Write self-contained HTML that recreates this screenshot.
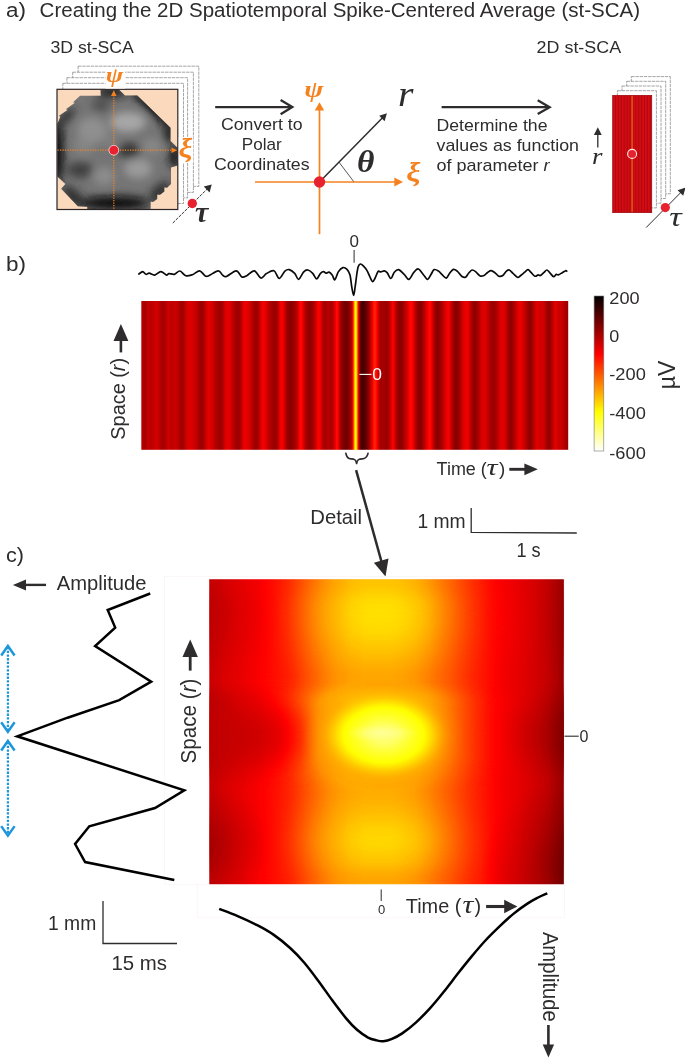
<!DOCTYPE html>
<html><head><meta charset="utf-8"><title>st-SCA</title>
<style>
html,body{margin:0;padding:0;background:#fff;}
svg{display:block;will-change:transform;}
text{font-family:"Liberation Sans",sans-serif;}
.s{font-family:"Liberation Serif",serif;font-style:italic;}
.sb{font-family:"Liberation Serif",serif;font-style:italic;font-weight:bold;}
</style></head><body>
<svg width="685" height="1058" viewBox="0 0 685 1058" fill="#2e2c2d">
<rect width="685" height="1058" fill="#fff"/>
<defs>

<linearGradient id="hb" x1="0" x2="1" y1="0" y2="0">
<stop offset="0.0000" stop-color="#c10000"/>
<stop offset="0.0023" stop-color="#b70000"/>
<stop offset="0.0047" stop-color="#ad0000"/>
<stop offset="0.0070" stop-color="#a60000"/>
<stop offset="0.0094" stop-color="#a60000"/>
<stop offset="0.0117" stop-color="#b10000"/>
<stop offset="0.0141" stop-color="#c00000"/>
<stop offset="0.0164" stop-color="#c70000"/>
<stop offset="0.0187" stop-color="#c30000"/>
<stop offset="0.0211" stop-color="#bc0000"/>
<stop offset="0.0234" stop-color="#b90000"/>
<stop offset="0.0258" stop-color="#bc0000"/>
<stop offset="0.0281" stop-color="#c20000"/>
<stop offset="0.0305" stop-color="#c90000"/>
<stop offset="0.0328" stop-color="#ce0000"/>
<stop offset="0.0351" stop-color="#d10000"/>
<stop offset="0.0375" stop-color="#d00000"/>
<stop offset="0.0398" stop-color="#c90000"/>
<stop offset="0.0422" stop-color="#c00000"/>
<stop offset="0.0445" stop-color="#b60000"/>
<stop offset="0.0468" stop-color="#ad0000"/>
<stop offset="0.0492" stop-color="#a70000"/>
<stop offset="0.0515" stop-color="#a50000"/>
<stop offset="0.0539" stop-color="#aa0000"/>
<stop offset="0.0562" stop-color="#b10000"/>
<stop offset="0.0586" stop-color="#ba0000"/>
<stop offset="0.0609" stop-color="#c40000"/>
<stop offset="0.0632" stop-color="#cd0000"/>
<stop offset="0.0656" stop-color="#d10000"/>
<stop offset="0.0679" stop-color="#c40000"/>
<stop offset="0.0703" stop-color="#be0000"/>
<stop offset="0.0726" stop-color="#c00000"/>
<stop offset="0.0750" stop-color="#c30000"/>
<stop offset="0.0773" stop-color="#c60000"/>
<stop offset="0.0796" stop-color="#c80000"/>
<stop offset="0.0820" stop-color="#c70000"/>
<stop offset="0.0843" stop-color="#c30000"/>
<stop offset="0.0867" stop-color="#ba0000"/>
<stop offset="0.0890" stop-color="#af0000"/>
<stop offset="0.0914" stop-color="#a50000"/>
<stop offset="0.0937" stop-color="#9f0000"/>
<stop offset="0.0960" stop-color="#9e0000"/>
<stop offset="0.0984" stop-color="#a50000"/>
<stop offset="0.1007" stop-color="#b10000"/>
<stop offset="0.1031" stop-color="#be0000"/>
<stop offset="0.1054" stop-color="#cb0000"/>
<stop offset="0.1078" stop-color="#d50000"/>
<stop offset="0.1101" stop-color="#db0000"/>
<stop offset="0.1124" stop-color="#dc0000"/>
<stop offset="0.1148" stop-color="#dc0000"/>
<stop offset="0.1171" stop-color="#d90000"/>
<stop offset="0.1195" stop-color="#d60000"/>
<stop offset="0.1218" stop-color="#d20000"/>
<stop offset="0.1242" stop-color="#cd0000"/>
<stop offset="0.1265" stop-color="#c80000"/>
<stop offset="0.1288" stop-color="#c00000"/>
<stop offset="0.1312" stop-color="#b70000"/>
<stop offset="0.1335" stop-color="#ae0000"/>
<stop offset="0.1359" stop-color="#a60000"/>
<stop offset="0.1382" stop-color="#9f0000"/>
<stop offset="0.1405" stop-color="#9b0000"/>
<stop offset="0.1429" stop-color="#9c0000"/>
<stop offset="0.1452" stop-color="#a40000"/>
<stop offset="0.1476" stop-color="#b00000"/>
<stop offset="0.1499" stop-color="#c00000"/>
<stop offset="0.1523" stop-color="#cf0000"/>
<stop offset="0.1546" stop-color="#da0000"/>
<stop offset="0.1569" stop-color="#e20000"/>
<stop offset="0.1593" stop-color="#e20000"/>
<stop offset="0.1616" stop-color="#dd0000"/>
<stop offset="0.1640" stop-color="#d70000"/>
<stop offset="0.1663" stop-color="#d00000"/>
<stop offset="0.1687" stop-color="#c90000"/>
<stop offset="0.1710" stop-color="#c10000"/>
<stop offset="0.1733" stop-color="#b90000"/>
<stop offset="0.1757" stop-color="#b10000"/>
<stop offset="0.1780" stop-color="#aa0000"/>
<stop offset="0.1804" stop-color="#a40000"/>
<stop offset="0.1827" stop-color="#9e0000"/>
<stop offset="0.1851" stop-color="#9b0000"/>
<stop offset="0.1874" stop-color="#9d0000"/>
<stop offset="0.1897" stop-color="#a60000"/>
<stop offset="0.1921" stop-color="#b70000"/>
<stop offset="0.1944" stop-color="#cb0000"/>
<stop offset="0.1968" stop-color="#d60000"/>
<stop offset="0.1991" stop-color="#e00000"/>
<stop offset="0.2015" stop-color="#e50000"/>
<stop offset="0.2038" stop-color="#e40000"/>
<stop offset="0.2061" stop-color="#df0000"/>
<stop offset="0.2085" stop-color="#d80000"/>
<stop offset="0.2108" stop-color="#cf0000"/>
<stop offset="0.2132" stop-color="#c60000"/>
<stop offset="0.2155" stop-color="#bc0000"/>
<stop offset="0.2178" stop-color="#b30000"/>
<stop offset="0.2202" stop-color="#ab0000"/>
<stop offset="0.2225" stop-color="#a30000"/>
<stop offset="0.2249" stop-color="#9e0000"/>
<stop offset="0.2272" stop-color="#9b0000"/>
<stop offset="0.2296" stop-color="#9e0000"/>
<stop offset="0.2319" stop-color="#a90000"/>
<stop offset="0.2342" stop-color="#ba0000"/>
<stop offset="0.2366" stop-color="#ce0000"/>
<stop offset="0.2389" stop-color="#e00000"/>
<stop offset="0.2413" stop-color="#e90000"/>
<stop offset="0.2436" stop-color="#eb0000"/>
<stop offset="0.2460" stop-color="#e90000"/>
<stop offset="0.2483" stop-color="#e40000"/>
<stop offset="0.2506" stop-color="#dd0000"/>
<stop offset="0.2530" stop-color="#d70000"/>
<stop offset="0.2553" stop-color="#cd0000"/>
<stop offset="0.2577" stop-color="#c20000"/>
<stop offset="0.2600" stop-color="#b70000"/>
<stop offset="0.2624" stop-color="#ac0000"/>
<stop offset="0.2647" stop-color="#a30000"/>
<stop offset="0.2670" stop-color="#9d0000"/>
<stop offset="0.2694" stop-color="#9b0000"/>
<stop offset="0.2717" stop-color="#9f0000"/>
<stop offset="0.2741" stop-color="#ab0000"/>
<stop offset="0.2764" stop-color="#bc0000"/>
<stop offset="0.2788" stop-color="#cf0000"/>
<stop offset="0.2811" stop-color="#e10000"/>
<stop offset="0.2834" stop-color="#ef0000"/>
<stop offset="0.2858" stop-color="#f50000"/>
<stop offset="0.2881" stop-color="#f30000"/>
<stop offset="0.2905" stop-color="#e80000"/>
<stop offset="0.2928" stop-color="#da0000"/>
<stop offset="0.2952" stop-color="#cb0000"/>
<stop offset="0.2975" stop-color="#c10000"/>
<stop offset="0.2998" stop-color="#b90000"/>
<stop offset="0.3022" stop-color="#b20000"/>
<stop offset="0.3045" stop-color="#aa0000"/>
<stop offset="0.3069" stop-color="#a40000"/>
<stop offset="0.3092" stop-color="#9e0000"/>
<stop offset="0.3115" stop-color="#9a0000"/>
<stop offset="0.3139" stop-color="#990000"/>
<stop offset="0.3162" stop-color="#9c0000"/>
<stop offset="0.3186" stop-color="#a70000"/>
<stop offset="0.3209" stop-color="#bd0000"/>
<stop offset="0.3233" stop-color="#d90000"/>
<stop offset="0.3256" stop-color="#f00000"/>
<stop offset="0.3279" stop-color="#fa0000"/>
<stop offset="0.3303" stop-color="#f50000"/>
<stop offset="0.3326" stop-color="#e70000"/>
<stop offset="0.3350" stop-color="#d40000"/>
<stop offset="0.3373" stop-color="#be0000"/>
<stop offset="0.3397" stop-color="#ab0000"/>
<stop offset="0.3420" stop-color="#9d0000"/>
<stop offset="0.3443" stop-color="#930000"/>
<stop offset="0.3467" stop-color="#8d0000"/>
<stop offset="0.3490" stop-color="#8a0000"/>
<stop offset="0.3514" stop-color="#8c0000"/>
<stop offset="0.3537" stop-color="#900000"/>
<stop offset="0.3561" stop-color="#960000"/>
<stop offset="0.3584" stop-color="#9e0000"/>
<stop offset="0.3607" stop-color="#a80000"/>
<stop offset="0.3631" stop-color="#b30000"/>
<stop offset="0.3654" stop-color="#c10000"/>
<stop offset="0.3678" stop-color="#d80000"/>
<stop offset="0.3701" stop-color="#f40000"/>
<stop offset="0.3725" stop-color="#ff0600"/>
<stop offset="0.3748" stop-color="#ff0500"/>
<stop offset="0.3771" stop-color="#f40000"/>
<stop offset="0.3795" stop-color="#de0000"/>
<stop offset="0.3818" stop-color="#c70000"/>
<stop offset="0.3842" stop-color="#b30000"/>
<stop offset="0.3865" stop-color="#a50000"/>
<stop offset="0.3888" stop-color="#9b0000"/>
<stop offset="0.3912" stop-color="#940000"/>
<stop offset="0.3935" stop-color="#910000"/>
<stop offset="0.3959" stop-color="#920000"/>
<stop offset="0.3982" stop-color="#960000"/>
<stop offset="0.4006" stop-color="#9e0000"/>
<stop offset="0.4029" stop-color="#a80000"/>
<stop offset="0.4052" stop-color="#b30000"/>
<stop offset="0.4076" stop-color="#c00000"/>
<stop offset="0.4099" stop-color="#d50000"/>
<stop offset="0.4123" stop-color="#ec0000"/>
<stop offset="0.4146" stop-color="#fd0000"/>
<stop offset="0.4170" stop-color="#fd0000"/>
<stop offset="0.4193" stop-color="#ed0000"/>
<stop offset="0.4216" stop-color="#d70000"/>
<stop offset="0.4240" stop-color="#c10000"/>
<stop offset="0.4263" stop-color="#b30000"/>
<stop offset="0.4287" stop-color="#aa0000"/>
<stop offset="0.4310" stop-color="#a60000"/>
<stop offset="0.4334" stop-color="#a70000"/>
<stop offset="0.4357" stop-color="#b20000"/>
<stop offset="0.4380" stop-color="#b90000"/>
<stop offset="0.4404" stop-color="#b40000"/>
<stop offset="0.4427" stop-color="#ad0000"/>
<stop offset="0.4451" stop-color="#ab0000"/>
<stop offset="0.4474" stop-color="#b20000"/>
<stop offset="0.4498" stop-color="#bf0000"/>
<stop offset="0.4521" stop-color="#ce0000"/>
<stop offset="0.4544" stop-color="#e80000"/>
<stop offset="0.4568" stop-color="#ff0700"/>
<stop offset="0.4591" stop-color="#ff0b00"/>
<stop offset="0.4615" stop-color="#ef0000"/>
<stop offset="0.4638" stop-color="#cb0000"/>
<stop offset="0.4662" stop-color="#ad0000"/>
<stop offset="0.4685" stop-color="#9b0000"/>
<stop offset="0.4708" stop-color="#8c0000"/>
<stop offset="0.4732" stop-color="#800000"/>
<stop offset="0.4755" stop-color="#770000"/>
<stop offset="0.4779" stop-color="#720000"/>
<stop offset="0.4802" stop-color="#720000"/>
<stop offset="0.4825" stop-color="#760000"/>
<stop offset="0.4849" stop-color="#7e0000"/>
<stop offset="0.4872" stop-color="#890000"/>
<stop offset="0.4896" stop-color="#990000"/>
<stop offset="0.4919" stop-color="#af0000"/>
<stop offset="0.4943" stop-color="#d50000"/>
<stop offset="0.4966" stop-color="#ff2800"/>
<stop offset="0.4989" stop-color="#ff9e00"/>
<stop offset="0.5013" stop-color="#fffd00"/>
<stop offset="0.5036" stop-color="#fff900"/>
<stop offset="0.5060" stop-color="#ff7f00"/>
<stop offset="0.5083" stop-color="#ff0900"/>
<stop offset="0.5107" stop-color="#ae0000"/>
<stop offset="0.5130" stop-color="#6d0000"/>
<stop offset="0.5153" stop-color="#500000"/>
<stop offset="0.5177" stop-color="#460000"/>
<stop offset="0.5200" stop-color="#470000"/>
<stop offset="0.5224" stop-color="#4f0000"/>
<stop offset="0.5247" stop-color="#5a0000"/>
<stop offset="0.5271" stop-color="#670000"/>
<stop offset="0.5294" stop-color="#750000"/>
<stop offset="0.5317" stop-color="#860000"/>
<stop offset="0.5341" stop-color="#9a0000"/>
<stop offset="0.5364" stop-color="#b40000"/>
<stop offset="0.5388" stop-color="#d00000"/>
<stop offset="0.5411" stop-color="#eb0000"/>
<stop offset="0.5435" stop-color="#ff0900"/>
<stop offset="0.5458" stop-color="#ff2000"/>
<stop offset="0.5481" stop-color="#ff2100"/>
<stop offset="0.5505" stop-color="#ff0e00"/>
<stop offset="0.5528" stop-color="#f50000"/>
<stop offset="0.5552" stop-color="#d90000"/>
<stop offset="0.5575" stop-color="#b90000"/>
<stop offset="0.5599" stop-color="#a20000"/>
<stop offset="0.5622" stop-color="#9f0000"/>
<stop offset="0.5645" stop-color="#a70000"/>
<stop offset="0.5669" stop-color="#a80000"/>
<stop offset="0.5692" stop-color="#a30000"/>
<stop offset="0.5716" stop-color="#9e0000"/>
<stop offset="0.5739" stop-color="#9c0000"/>
<stop offset="0.5762" stop-color="#9f0000"/>
<stop offset="0.5786" stop-color="#a60000"/>
<stop offset="0.5809" stop-color="#b20000"/>
<stop offset="0.5833" stop-color="#c60000"/>
<stop offset="0.5856" stop-color="#e00000"/>
<stop offset="0.5880" stop-color="#f50000"/>
<stop offset="0.5903" stop-color="#fa0000"/>
<stop offset="0.5926" stop-color="#e80000"/>
<stop offset="0.5950" stop-color="#c90000"/>
<stop offset="0.5973" stop-color="#b00000"/>
<stop offset="0.5997" stop-color="#a20000"/>
<stop offset="0.6020" stop-color="#960000"/>
<stop offset="0.6044" stop-color="#8e0000"/>
<stop offset="0.6067" stop-color="#8b0000"/>
<stop offset="0.6090" stop-color="#8e0000"/>
<stop offset="0.6114" stop-color="#950000"/>
<stop offset="0.6137" stop-color="#a00000"/>
<stop offset="0.6161" stop-color="#ad0000"/>
<stop offset="0.6184" stop-color="#ba0000"/>
<stop offset="0.6208" stop-color="#c70000"/>
<stop offset="0.6231" stop-color="#d50000"/>
<stop offset="0.6254" stop-color="#e70000"/>
<stop offset="0.6278" stop-color="#f90000"/>
<stop offset="0.6301" stop-color="#ff0500"/>
<stop offset="0.6325" stop-color="#ff0700"/>
<stop offset="0.6348" stop-color="#fc0000"/>
<stop offset="0.6372" stop-color="#e90000"/>
<stop offset="0.6395" stop-color="#d30000"/>
<stop offset="0.6418" stop-color="#bd0000"/>
<stop offset="0.6442" stop-color="#ab0000"/>
<stop offset="0.6465" stop-color="#9c0000"/>
<stop offset="0.6489" stop-color="#8e0000"/>
<stop offset="0.6512" stop-color="#850000"/>
<stop offset="0.6535" stop-color="#840000"/>
<stop offset="0.6559" stop-color="#8a0000"/>
<stop offset="0.6582" stop-color="#960000"/>
<stop offset="0.6606" stop-color="#a50000"/>
<stop offset="0.6629" stop-color="#b60000"/>
<stop offset="0.6653" stop-color="#c80000"/>
<stop offset="0.6676" stop-color="#d70000"/>
<stop offset="0.6699" stop-color="#e80000"/>
<stop offset="0.6723" stop-color="#f90000"/>
<stop offset="0.6746" stop-color="#ff0600"/>
<stop offset="0.6770" stop-color="#ff0500"/>
<stop offset="0.6793" stop-color="#f50000"/>
<stop offset="0.6817" stop-color="#dc0000"/>
<stop offset="0.6840" stop-color="#c60000"/>
<stop offset="0.6863" stop-color="#af0000"/>
<stop offset="0.6887" stop-color="#990000"/>
<stop offset="0.6910" stop-color="#8d0000"/>
<stop offset="0.6934" stop-color="#8a0000"/>
<stop offset="0.6957" stop-color="#8d0000"/>
<stop offset="0.6981" stop-color="#930000"/>
<stop offset="0.7004" stop-color="#9b0000"/>
<stop offset="0.7027" stop-color="#a30000"/>
<stop offset="0.7051" stop-color="#b00000"/>
<stop offset="0.7074" stop-color="#be0000"/>
<stop offset="0.7098" stop-color="#cb0000"/>
<stop offset="0.7121" stop-color="#d80000"/>
<stop offset="0.7145" stop-color="#e60000"/>
<stop offset="0.7168" stop-color="#f10000"/>
<stop offset="0.7191" stop-color="#f60000"/>
<stop offset="0.7215" stop-color="#f00000"/>
<stop offset="0.7238" stop-color="#dc0000"/>
<stop offset="0.7262" stop-color="#c40000"/>
<stop offset="0.7285" stop-color="#b20000"/>
<stop offset="0.7309" stop-color="#a20000"/>
<stop offset="0.7332" stop-color="#930000"/>
<stop offset="0.7355" stop-color="#8a0000"/>
<stop offset="0.7379" stop-color="#890000"/>
<stop offset="0.7402" stop-color="#8c0000"/>
<stop offset="0.7426" stop-color="#940000"/>
<stop offset="0.7449" stop-color="#9e0000"/>
<stop offset="0.7472" stop-color="#aa0000"/>
<stop offset="0.7496" stop-color="#ba0000"/>
<stop offset="0.7519" stop-color="#cb0000"/>
<stop offset="0.7543" stop-color="#d90000"/>
<stop offset="0.7566" stop-color="#e30000"/>
<stop offset="0.7590" stop-color="#ea0000"/>
<stop offset="0.7613" stop-color="#ee0000"/>
<stop offset="0.7636" stop-color="#ee0000"/>
<stop offset="0.7660" stop-color="#e70000"/>
<stop offset="0.7683" stop-color="#d60000"/>
<stop offset="0.7707" stop-color="#c20000"/>
<stop offset="0.7730" stop-color="#b30000"/>
<stop offset="0.7754" stop-color="#a40000"/>
<stop offset="0.7777" stop-color="#980000"/>
<stop offset="0.7800" stop-color="#910000"/>
<stop offset="0.7824" stop-color="#920000"/>
<stop offset="0.7847" stop-color="#980000"/>
<stop offset="0.7871" stop-color="#a10000"/>
<stop offset="0.7894" stop-color="#ab0000"/>
<stop offset="0.7918" stop-color="#b70000"/>
<stop offset="0.7941" stop-color="#c50000"/>
<stop offset="0.7964" stop-color="#d20000"/>
<stop offset="0.7988" stop-color="#db0000"/>
<stop offset="0.8011" stop-color="#df0000"/>
<stop offset="0.8035" stop-color="#df0000"/>
<stop offset="0.8058" stop-color="#db0000"/>
<stop offset="0.8082" stop-color="#d50000"/>
<stop offset="0.8105" stop-color="#cc0000"/>
<stop offset="0.8128" stop-color="#c10000"/>
<stop offset="0.8152" stop-color="#b50000"/>
<stop offset="0.8175" stop-color="#ab0000"/>
<stop offset="0.8199" stop-color="#a20000"/>
<stop offset="0.8222" stop-color="#9c0000"/>
<stop offset="0.8245" stop-color="#9a0000"/>
<stop offset="0.8269" stop-color="#9c0000"/>
<stop offset="0.8292" stop-color="#a30000"/>
<stop offset="0.8316" stop-color="#ab0000"/>
<stop offset="0.8339" stop-color="#b50000"/>
<stop offset="0.8363" stop-color="#c10000"/>
<stop offset="0.8386" stop-color="#ce0000"/>
<stop offset="0.8409" stop-color="#da0000"/>
<stop offset="0.8433" stop-color="#e00000"/>
<stop offset="0.8456" stop-color="#e10000"/>
<stop offset="0.8480" stop-color="#e00000"/>
<stop offset="0.8503" stop-color="#db0000"/>
<stop offset="0.8527" stop-color="#d30000"/>
<stop offset="0.8550" stop-color="#c50000"/>
<stop offset="0.8573" stop-color="#b40000"/>
<stop offset="0.8597" stop-color="#a40000"/>
<stop offset="0.8620" stop-color="#980000"/>
<stop offset="0.8644" stop-color="#910000"/>
<stop offset="0.8667" stop-color="#900000"/>
<stop offset="0.8691" stop-color="#970000"/>
<stop offset="0.8714" stop-color="#a20000"/>
<stop offset="0.8737" stop-color="#af0000"/>
<stop offset="0.8761" stop-color="#bb0000"/>
<stop offset="0.8784" stop-color="#c80000"/>
<stop offset="0.8808" stop-color="#d60000"/>
<stop offset="0.8831" stop-color="#e20000"/>
<stop offset="0.8855" stop-color="#eb0000"/>
<stop offset="0.8878" stop-color="#ed0000"/>
<stop offset="0.8901" stop-color="#e70000"/>
<stop offset="0.8925" stop-color="#dc0000"/>
<stop offset="0.8948" stop-color="#d20000"/>
<stop offset="0.8972" stop-color="#c80000"/>
<stop offset="0.8995" stop-color="#be0000"/>
<stop offset="0.9019" stop-color="#b30000"/>
<stop offset="0.9042" stop-color="#a80000"/>
<stop offset="0.9065" stop-color="#9b0000"/>
<stop offset="0.9089" stop-color="#900000"/>
<stop offset="0.9112" stop-color="#8c0000"/>
<stop offset="0.9136" stop-color="#940000"/>
<stop offset="0.9159" stop-color="#a30000"/>
<stop offset="0.9182" stop-color="#b20000"/>
<stop offset="0.9206" stop-color="#bf0000"/>
<stop offset="0.9229" stop-color="#cc0000"/>
<stop offset="0.9253" stop-color="#d80000"/>
<stop offset="0.9276" stop-color="#df0000"/>
<stop offset="0.9300" stop-color="#dd0000"/>
<stop offset="0.9323" stop-color="#d50000"/>
<stop offset="0.9346" stop-color="#cf0000"/>
<stop offset="0.9370" stop-color="#d20000"/>
<stop offset="0.9393" stop-color="#d70000"/>
<stop offset="0.9417" stop-color="#d10000"/>
<stop offset="0.9440" stop-color="#c50000"/>
<stop offset="0.9464" stop-color="#b90000"/>
<stop offset="0.9487" stop-color="#ae0000"/>
<stop offset="0.9510" stop-color="#a00000"/>
<stop offset="0.9534" stop-color="#950000"/>
<stop offset="0.9557" stop-color="#910000"/>
<stop offset="0.9581" stop-color="#990000"/>
<stop offset="0.9604" stop-color="#a80000"/>
<stop offset="0.9628" stop-color="#b80000"/>
<stop offset="0.9651" stop-color="#c60000"/>
<stop offset="0.9674" stop-color="#d50000"/>
<stop offset="0.9698" stop-color="#e10000"/>
<stop offset="0.9721" stop-color="#e30000"/>
<stop offset="0.9745" stop-color="#d60000"/>
<stop offset="0.9768" stop-color="#c90000"/>
<stop offset="0.9792" stop-color="#ca0000"/>
<stop offset="0.9815" stop-color="#cf0000"/>
<stop offset="0.9838" stop-color="#cb0000"/>
<stop offset="0.9862" stop-color="#c40000"/>
<stop offset="0.9885" stop-color="#bc0000"/>
<stop offset="0.9909" stop-color="#b40000"/>
<stop offset="0.9932" stop-color="#ad0000"/>
<stop offset="0.9955" stop-color="#a40000"/>
<stop offset="0.9979" stop-color="#9d0000"/>
</linearGradient>
<linearGradient id="cb" x1="0" x2="0" y1="0" y2="1"><stop offset="0" stop-color="#000"/><stop offset=".375" stop-color="#f00"/><stop offset=".75" stop-color="#ff0"/><stop offset="1" stop-color="#fff"/></linearGradient>
<filter id="hot" x="0" y="0" width="1" height="1" color-interpolation-filters="sRGB">
<feComponentTransfer>
<feFuncR type="table" tableValues="0 .3333 .6667 1 1 1 1 1 1"/>
<feFuncG type="table" tableValues="0 0 0 0 .3333 .6667 1 1 1"/>
<feFuncB type="table" tableValues="0 0 0 0 0 0 0 .5 1"/>
</feComponentTransfer></filter>
<filter id="bl2" x="-10%" y="-10%" width="120%" height="120%"><feGaussianBlur stdDeviation="2.2"/></filter>
<filter id="bl1" x="-10%" y="-10%" width="120%" height="120%"><feGaussianBlur stdDeviation="1"/></filter>
<filter id="bl06" x="-10%" y="-10%" width="120%" height="120%"><feGaussianBlur stdDeviation=".6"/></filter>
<filter id="bl3" x="-30%" y="-30%" width="160%" height="160%"><feGaussianBlur stdDeviation="3"/></filter>
<filter id="bl4" x="-30%" y="-30%" width="160%" height="160%"><feGaussianBlur stdDeviation="4"/></filter>
<linearGradient id="g1" x1="0" x2="1" y1="0" y2="0"><stop offset="0.0000" stop-color="#4c4c4c"/><stop offset="0.0182" stop-color="#4f4f4f"/><stop offset="0.0364" stop-color="#515151"/><stop offset="0.0545" stop-color="#545454"/><stop offset="0.0727" stop-color="#565656"/><stop offset="0.0909" stop-color="#585858"/><stop offset="0.1091" stop-color="#5b5b5b"/><stop offset="0.1273" stop-color="#5d5d5d"/><stop offset="0.1455" stop-color="#606060"/><stop offset="0.1636" stop-color="#626262"/><stop offset="0.1818" stop-color="#656565"/><stop offset="0.2000" stop-color="#686868"/><stop offset="0.2182" stop-color="#6b6b6b"/><stop offset="0.2364" stop-color="#707070"/><stop offset="0.2545" stop-color="#767676"/><stop offset="0.2727" stop-color="#7d7d7d"/><stop offset="0.2909" stop-color="#838383"/><stop offset="0.3091" stop-color="#898989"/><stop offset="0.3273" stop-color="#8f8f8f"/><stop offset="0.3455" stop-color="#949494"/><stop offset="0.3636" stop-color="#989898"/><stop offset="0.3818" stop-color="#9a9a9a"/><stop offset="0.4000" stop-color="#9c9c9c"/><stop offset="0.4182" stop-color="#9d9d9d"/><stop offset="0.4364" stop-color="#9e9e9e"/><stop offset="0.4545" stop-color="#9e9e9e"/><stop offset="0.4727" stop-color="#9e9e9e"/><stop offset="0.4909" stop-color="#9e9e9e"/><stop offset="0.5091" stop-color="#9e9e9e"/><stop offset="0.5273" stop-color="#9d9d9d"/><stop offset="0.5455" stop-color="#9c9c9c"/><stop offset="0.5636" stop-color="#9a9a9a"/><stop offset="0.5818" stop-color="#989898"/><stop offset="0.6000" stop-color="#949494"/><stop offset="0.6182" stop-color="#909090"/><stop offset="0.6364" stop-color="#8b8b8b"/><stop offset="0.6545" stop-color="#878787"/><stop offset="0.6727" stop-color="#828282"/><stop offset="0.6909" stop-color="#7d7d7d"/><stop offset="0.7091" stop-color="#787878"/><stop offset="0.7273" stop-color="#737373"/><stop offset="0.7455" stop-color="#6e6e6e"/><stop offset="0.7636" stop-color="#6a6a6a"/><stop offset="0.7818" stop-color="#666666"/><stop offset="0.8000" stop-color="#626262"/><stop offset="0.8182" stop-color="#5e5e5e"/><stop offset="0.8364" stop-color="#5b5b5b"/><stop offset="0.8545" stop-color="#595959"/><stop offset="0.8727" stop-color="#575757"/><stop offset="0.8909" stop-color="#545454"/><stop offset="0.9091" stop-color="#515151"/><stop offset="0.9273" stop-color="#4f4f4f"/><stop offset="0.9455" stop-color="#4c4c4c"/><stop offset="0.9636" stop-color="#474747"/><stop offset="0.9818" stop-color="#414141"/><stop offset="1.0000" stop-color="#393939"/></linearGradient>
<linearGradient id="g3" x1="0" x2="1" y1="0" y2="0"><stop offset="0.0000" stop-color="#464646"/><stop offset="0.0182" stop-color="#494949"/><stop offset="0.0364" stop-color="#4b4b4b"/><stop offset="0.0545" stop-color="#4e4e4e"/><stop offset="0.0727" stop-color="#515151"/><stop offset="0.0909" stop-color="#545454"/><stop offset="0.1091" stop-color="#565656"/><stop offset="0.1273" stop-color="#595959"/><stop offset="0.1455" stop-color="#5c5c5c"/><stop offset="0.1636" stop-color="#616161"/><stop offset="0.1818" stop-color="#656565"/><stop offset="0.2000" stop-color="#6b6b6b"/><stop offset="0.2182" stop-color="#717171"/><stop offset="0.2364" stop-color="#797979"/><stop offset="0.2545" stop-color="#818181"/><stop offset="0.2727" stop-color="#898989"/><stop offset="0.2909" stop-color="#919191"/><stop offset="0.3091" stop-color="#989898"/><stop offset="0.3273" stop-color="#9e9e9e"/><stop offset="0.3455" stop-color="#a3a3a3"/><stop offset="0.3636" stop-color="#a7a7a7"/><stop offset="0.3818" stop-color="#acacac"/><stop offset="0.4000" stop-color="#b0b0b0"/><stop offset="0.4182" stop-color="#b2b2b2"/><stop offset="0.4364" stop-color="#b4b4b4"/><stop offset="0.4545" stop-color="#b5b5b5"/><stop offset="0.4727" stop-color="#b5b5b5"/><stop offset="0.4909" stop-color="#b5b5b5"/><stop offset="0.5091" stop-color="#b5b5b5"/><stop offset="0.5273" stop-color="#b4b4b4"/><stop offset="0.5455" stop-color="#b2b2b2"/><stop offset="0.5636" stop-color="#b0b0b0"/><stop offset="0.5818" stop-color="#adadad"/><stop offset="0.6000" stop-color="#a9a9a9"/><stop offset="0.6182" stop-color="#a4a4a4"/><stop offset="0.6364" stop-color="#9d9d9d"/><stop offset="0.6545" stop-color="#969696"/><stop offset="0.6727" stop-color="#8f8f8f"/><stop offset="0.6909" stop-color="#888888"/><stop offset="0.7091" stop-color="#818181"/><stop offset="0.7273" stop-color="#7a7a7a"/><stop offset="0.7455" stop-color="#747474"/><stop offset="0.7636" stop-color="#6e6e6e"/><stop offset="0.7818" stop-color="#686868"/><stop offset="0.8000" stop-color="#636363"/><stop offset="0.8182" stop-color="#606060"/><stop offset="0.8364" stop-color="#5d5d5d"/><stop offset="0.8545" stop-color="#5b5b5b"/><stop offset="0.8727" stop-color="#585858"/><stop offset="0.8909" stop-color="#555555"/><stop offset="0.9091" stop-color="#525252"/><stop offset="0.9273" stop-color="#4e4e4e"/><stop offset="0.9455" stop-color="#4a4a4a"/><stop offset="0.9636" stop-color="#454545"/><stop offset="0.9818" stop-color="#3f3f3f"/><stop offset="1.0000" stop-color="#383838"/></linearGradient>
<linearGradient id="gw" x1="0" x2="1" y1="0" y2="0"><stop offset="0.0000" stop-color="#484848" stop-opacity="1"/><stop offset="0.0781" stop-color="#4b4b4b" stop-opacity="1"/><stop offset="0.1374" stop-color="#4e4e4e" stop-opacity="1"/><stop offset="0.1994" stop-color="#555555" stop-opacity="0.9"/><stop offset="0.2559" stop-color="#606060" stop-opacity="0.55"/><stop offset="0.3066" stop-color="#737373" stop-opacity="0"/><stop offset="0.7354" stop-color="#737373" stop-opacity="0"/><stop offset="0.8059" stop-color="#606060" stop-opacity="0.5"/><stop offset="0.8764" stop-color="#505050" stop-opacity="0.9"/><stop offset="0.9329" stop-color="#454545" stop-opacity="1"/><stop offset="0.9639" stop-color="#3c3c3c" stop-opacity="1"/><stop offset="1.0000" stop-color="#2f2f2f" stop-opacity="1"/></linearGradient>
<radialGradient id="gstreak" gradientUnits="userSpaceOnUse" cx="0" cy="0" r="1" gradientTransform="translate(382 733) scale(36 10)"><stop offset="0" stop-color="#e6e6e6" stop-opacity=".95"/><stop offset=".5" stop-color="#e0e0e0" stop-opacity=".6"/><stop offset="1" stop-color="#d4d4d4" stop-opacity="0"/></radialGradient>
<radialGradient id="gblob" gradientUnits="userSpaceOnUse" cx="0" cy="0" r="1" gradientTransform="translate(384 735) scale(80 56)"><stop offset="0" stop-color="#dfdfdf" stop-opacity="1"/><stop offset="0.1" stop-color="#dddddd" stop-opacity="1"/><stop offset="0.2" stop-color="#d6d6d6" stop-opacity="1"/><stop offset="0.3" stop-color="#cdcdcd" stop-opacity="1"/><stop offset="0.4" stop-color="#c6c6c6" stop-opacity="1"/><stop offset="0.5" stop-color="#bfbfbf" stop-opacity="1"/><stop offset="0.58" stop-color="#b5b5b5" stop-opacity="0.95"/><stop offset="0.66" stop-color="#aaaaaa" stop-opacity="0.8"/><stop offset="0.75" stop-color="#9e9e9e" stop-opacity="0.55"/><stop offset="0.85" stop-color="#949494" stop-opacity="0.28"/><stop offset="1" stop-color="#8a8a8a" stop-opacity="0"/></radialGradient>
<linearGradient id="mbg" x1="0" x2="0" y1="0" y2="1">
<stop offset="0.0000" stop-color="#808080"/>
<stop offset="0.0159" stop-color="#848484"/>
<stop offset="0.0317" stop-color="#979797"/>
<stop offset="0.0476" stop-color="#b3b3b3"/>
<stop offset="0.0635" stop-color="#cfcfcf"/>
<stop offset="0.0794" stop-color="#e3e3e3"/>
<stop offset="0.0952" stop-color="#ebebeb"/>
<stop offset="0.1111" stop-color="#ededed"/>
<stop offset="0.1270" stop-color="#ebebeb"/>
<stop offset="0.1429" stop-color="#e5e5e5"/>
<stop offset="0.1587" stop-color="#dbdbdb"/>
<stop offset="0.1746" stop-color="#cccccc"/>
<stop offset="0.1905" stop-color="#b8b8b8"/>
<stop offset="0.2063" stop-color="#a1a1a1"/>
<stop offset="0.2222" stop-color="#898989"/>
<stop offset="0.2381" stop-color="#727272"/>
<stop offset="0.2540" stop-color="#585858"/>
<stop offset="0.2698" stop-color="#3f3f3f"/>
<stop offset="0.2857" stop-color="#272727"/>
<stop offset="0.3016" stop-color="#131313"/>
<stop offset="0.3175" stop-color="#010101"/>
<stop offset="0.3333" stop-color="#000000"/>
<stop offset="0.3492" stop-color="#232323"/>
<stop offset="0.3651" stop-color="#696969"/>
<stop offset="0.3810" stop-color="#b3b3b3"/>
<stop offset="0.3968" stop-color="#e8e8e8"/>
<stop offset="0.4127" stop-color="#fcfcfc"/>
<stop offset="0.4286" stop-color="#ffffff"/>
<stop offset="0.4444" stop-color="#ffffff"/>
<stop offset="0.4603" stop-color="#ffffff"/>
<stop offset="0.4762" stop-color="#ffffff"/>
<stop offset="0.4921" stop-color="#ffffff"/>
<stop offset="0.5079" stop-color="#ffffff"/>
<stop offset="0.5238" stop-color="#ffffff"/>
<stop offset="0.5397" stop-color="#ffffff"/>
<stop offset="0.5556" stop-color="#ffffff"/>
<stop offset="0.5714" stop-color="#ffffff"/>
<stop offset="0.5873" stop-color="#f0f0f0"/>
<stop offset="0.6032" stop-color="#d1d1d1"/>
<stop offset="0.6190" stop-color="#adadad"/>
<stop offset="0.6349" stop-color="#8d8d8d"/>
<stop offset="0.6508" stop-color="#686868"/>
<stop offset="0.6667" stop-color="#444444"/>
<stop offset="0.6825" stop-color="#2b2b2b"/>
<stop offset="0.6984" stop-color="#232323"/>
<stop offset="0.7143" stop-color="#2a2a2a"/>
<stop offset="0.7302" stop-color="#3a3a3a"/>
<stop offset="0.7460" stop-color="#4d4d4d"/>
<stop offset="0.7619" stop-color="#5f5f5f"/>
<stop offset="0.7778" stop-color="#757575"/>
<stop offset="0.7937" stop-color="#8e8e8e"/>
<stop offset="0.8095" stop-color="#a5a5a5"/>
<stop offset="0.8254" stop-color="#b7b7b7"/>
<stop offset="0.8413" stop-color="#c4c4c4"/>
<stop offset="0.8571" stop-color="#c9c9c9"/>
<stop offset="0.8730" stop-color="#c2c2c2"/>
<stop offset="0.8889" stop-color="#b2b2b2"/>
<stop offset="0.9048" stop-color="#9b9b9b"/>
<stop offset="0.9206" stop-color="#838383"/>
<stop offset="0.9365" stop-color="#646464"/>
<stop offset="0.9524" stop-color="#3d3d3d"/>
<stop offset="0.9683" stop-color="#191919"/>
<stop offset="0.9841" stop-color="#030303"/>
<stop offset="1.0000" stop-color="#000000"/>
</linearGradient>
<mask id="mb" maskUnits="userSpaceOnUse" x="209.3" y="579.3" width="354.49999999999994" height="304.9000000000001"><rect x="209.3" y="579.3" width="354.49999999999994" height="304.9000000000001" fill="url(#mbg)"/></mask>
<linearGradient id="mag" x1="0" x2="0" y1="0" y2="1">
<stop offset="0.0000" stop-color="#000000"/>
<stop offset="0.0159" stop-color="#000000"/>
<stop offset="0.0317" stop-color="#000000"/>
<stop offset="0.0476" stop-color="#000000"/>
<stop offset="0.0635" stop-color="#000000"/>
<stop offset="0.0794" stop-color="#000000"/>
<stop offset="0.0952" stop-color="#000000"/>
<stop offset="0.1111" stop-color="#000000"/>
<stop offset="0.1270" stop-color="#000000"/>
<stop offset="0.1429" stop-color="#000000"/>
<stop offset="0.1587" stop-color="#000000"/>
<stop offset="0.1746" stop-color="#000000"/>
<stop offset="0.1905" stop-color="#000000"/>
<stop offset="0.2063" stop-color="#000000"/>
<stop offset="0.2222" stop-color="#000000"/>
<stop offset="0.2381" stop-color="#000000"/>
<stop offset="0.2540" stop-color="#000000"/>
<stop offset="0.2698" stop-color="#000000"/>
<stop offset="0.2857" stop-color="#000000"/>
<stop offset="0.3016" stop-color="#000000"/>
<stop offset="0.3175" stop-color="#000000"/>
<stop offset="0.3333" stop-color="#000000"/>
<stop offset="0.3492" stop-color="#000000"/>
<stop offset="0.3651" stop-color="#080808"/>
<stop offset="0.3810" stop-color="#1c1c1c"/>
<stop offset="0.3968" stop-color="#383838"/>
<stop offset="0.4127" stop-color="#5a5a5a"/>
<stop offset="0.4286" stop-color="#818181"/>
<stop offset="0.4444" stop-color="#aaaaaa"/>
<stop offset="0.4603" stop-color="#cbcbcb"/>
<stop offset="0.4762" stop-color="#e7e7e7"/>
<stop offset="0.4921" stop-color="#f7f7f7"/>
<stop offset="0.5079" stop-color="#fefefe"/>
<stop offset="0.5238" stop-color="#fefefe"/>
<stop offset="0.5397" stop-color="#f4f4f4"/>
<stop offset="0.5556" stop-color="#e1e1e1"/>
<stop offset="0.5714" stop-color="#c4c4c4"/>
<stop offset="0.5873" stop-color="#a0a0a0"/>
<stop offset="0.6032" stop-color="#777777"/>
<stop offset="0.6190" stop-color="#525252"/>
<stop offset="0.6349" stop-color="#303030"/>
<stop offset="0.6508" stop-color="#161616"/>
<stop offset="0.6667" stop-color="#050505"/>
<stop offset="0.6825" stop-color="#000000"/>
<stop offset="0.6984" stop-color="#000000"/>
<stop offset="0.7143" stop-color="#000000"/>
<stop offset="0.7302" stop-color="#000000"/>
<stop offset="0.7460" stop-color="#000000"/>
<stop offset="0.7619" stop-color="#000000"/>
<stop offset="0.7778" stop-color="#000000"/>
<stop offset="0.7937" stop-color="#000000"/>
<stop offset="0.8095" stop-color="#000000"/>
<stop offset="0.8254" stop-color="#000000"/>
<stop offset="0.8413" stop-color="#000000"/>
<stop offset="0.8571" stop-color="#000000"/>
<stop offset="0.8730" stop-color="#000000"/>
<stop offset="0.8889" stop-color="#000000"/>
<stop offset="0.9048" stop-color="#000000"/>
<stop offset="0.9206" stop-color="#000000"/>
<stop offset="0.9365" stop-color="#000000"/>
<stop offset="0.9524" stop-color="#000000"/>
<stop offset="0.9683" stop-color="#000000"/>
<stop offset="0.9841" stop-color="#000000"/>
<stop offset="1.0000" stop-color="#000000"/>
</linearGradient>
<mask id="ma" maskUnits="userSpaceOnUse" x="209.3" y="579.3" width="354.49999999999994" height="304.9000000000001"><rect x="209.3" y="579.3" width="354.49999999999994" height="304.9000000000001" fill="url(#mag)"/></mask>
<radialGradient id="cbr" gradientUnits="userSpaceOnUse" cx="575" cy="870" r="95"><stop offset="0" stop-color="#000" stop-opacity=".32"/><stop offset=".5" stop-color="#000" stop-opacity=".13"/><stop offset="1" stop-color="#000" stop-opacity="0"/></radialGradient>
<radialGradient id="cbl" gradientUnits="userSpaceOnUse" cx="200" cy="850" r="70"><stop offset="0" stop-color="#000" stop-opacity=".16"/><stop offset="1" stop-color="#000" stop-opacity="0"/></radialGradient>
</defs>
<text x="6" y="17.3" font-size="19.6" textLength="20" lengthAdjust="spacingAndGlyphs" fill="#2e2c2d">a)</text>
<text x="39.6" y="17.3" font-size="19.6" textLength="600.5" lengthAdjust="spacingAndGlyphs" fill="#2e2c2d">Creating the 2D Spatiotemporal Spike-Centered Average (st-SCA)</text>
<text x="50.4" y="52.6" font-size="16.3" textLength="83.5" lengthAdjust="spacingAndGlyphs" fill="#2e2c2d">3D st-SCA</text>
<text x="536.6" y="52.6" font-size="16.3" textLength="84.5" lengthAdjust="spacingAndGlyphs" fill="#2e2c2d">2D st-SCA</text>
<rect x="78.1" y="66.2" width="120.7" height="120.2" fill="#fff" stroke="#5c5c5c" stroke-width=".55" stroke-dasharray="3.4 .8"/>
<rect x="72.7" y="72.2" width="120.7" height="120.2" fill="#fff" stroke="#5c5c5c" stroke-width=".55" stroke-dasharray="3.4 .8"/>
<rect x="66.9" y="77.7" width="120.7" height="120.2" fill="#fff" stroke="#5c5c5c" stroke-width=".55" stroke-dasharray="3.4 .8"/>
<rect x="62.8" y="83.3" width="120.7" height="120.2" fill="#fff" stroke="#5c5c5c" stroke-width=".55" stroke-dasharray="3.4 .8"/>
<rect x="57" y="89.2" width="121" height="120.3" fill="#fad9bd"/>
<clipPath id="sq"><rect x="57" y="89.2" width="121" height="120.3"/></clipPath>
<clipPath id="blobc"><polygon points="100.5,89.4 100.8,95.7 80.1,95.7 73.0,102.2 75.0,102.7 65.9,109.3 67.9,109.8 58.8,116.0 60.5,116.6 57.4,124.0 57.4,176.4 65.4,184.0 61.2,188.7 77.8,206.3 87.3,206.8 87.3,209.5 150.6,209.5 150.6,201.6 153.0,201.9 157.2,199.0 157.2,194.4 160.0,194.8 164.3,191.5 164.3,187.3 167.0,187.8 171.0,184.0 171.0,167.4 177.6,165.5 177.6,147.7 170.5,141.0 170.5,127.8 137.3,95.5 125.0,95.5 118.8,89.4"/></clipPath>
<g clip-path="url(#sq)">
<g filter="url(#bl06)"><polygon points="100.5,89.4 100.8,95.7 80.1,95.7 73.0,102.2 75.0,102.7 65.9,109.3 67.9,109.8 58.8,116.0 60.5,116.6 57.4,124.0 57.4,176.4 65.4,184.0 61.2,188.7 77.8,206.3 87.3,206.8 87.3,209.5 150.6,209.5 150.6,201.6 153.0,201.9 157.2,199.0 157.2,194.4 160.0,194.8 164.3,191.5 164.3,187.3 167.0,187.8 171.0,184.0 171.0,167.4 177.6,165.5 177.6,147.7 170.5,141.0 170.5,127.8 137.3,95.5 125.0,95.5 118.8,89.4" fill="#747474"/>
<g clip-path="url(#blobc)"><g filter="url(#bl4)">
<ellipse cx="153" cy="108" rx="30" ry="5.5" fill="#0a0a0a" opacity="1" transform="rotate(44.2 153 108)"/>
<ellipse cx="112" cy="92" rx="15" ry="5" fill="#1c1c1c" opacity="1"/>
<ellipse cx="101" cy="105" rx="9" ry="7" fill="#444" opacity="0.7"/>
<ellipse cx="57" cy="152" rx="6.5" ry="32" fill="#0c0c0c" opacity="1"/>
<ellipse cx="80" cy="170" rx="13" ry="8" fill="#333" opacity="0.8"/>
<ellipse cx="115" cy="203" rx="34" ry="7" fill="#0a0a0a" opacity="1"/>
<ellipse cx="74" cy="197" rx="15" ry="6" fill="#242424" opacity="0.9" transform="rotate(45 74 197)"/>
<ellipse cx="175" cy="157" rx="6" ry="11" fill="#141414" opacity="1"/>
<ellipse cx="169" cy="134" rx="6" ry="10" fill="#1e1e1e" opacity="0.9"/>
<ellipse cx="160" cy="192" rx="13" ry="7" fill="#242424" opacity="0.85" transform="rotate(-45 160 192)"/>
<ellipse cx="129" cy="151" rx="11" ry="8" fill="#2a2a2a" opacity="0.85"/>
<ellipse cx="66" cy="117" rx="12" ry="5" fill="#2a2a2a" opacity="0.85" transform="rotate(-45 66 117)"/>
<ellipse cx="128" cy="122" rx="18" ry="10" fill="#aaaaaa" opacity="0.95"/>
<ellipse cx="92" cy="130" rx="15" ry="13" fill="#949494" opacity="0.85"/>
<ellipse cx="138" cy="168.5" rx="14" ry="10" fill="#9e9e9e" opacity="0.9"/>
<ellipse cx="104" cy="176" rx="11" ry="9" fill="#929292" opacity="0.8"/>
<ellipse cx="84" cy="146" rx="11" ry="9" fill="#8a8a8a" opacity="0.7"/>
<ellipse cx="152" cy="146" rx="10" ry="8" fill="#909090" opacity="0.7"/>
<ellipse cx="110" cy="140" rx="9" ry="8" fill="#888" opacity="0.5"/>
</g></g></g></g>
<rect x="57" y="89.3" width="120.8" height="120.2" fill="none" stroke="#2c2526" stroke-width="1.2"/>
<line x1="113.8" y1="95" x2="113.8" y2="209" stroke="#f5821f" stroke-width="1.2" stroke-dasharray="1.2 1.3"/>
<line x1="57.5" y1="150.2" x2="172" y2="150.2" stroke="#f5821f" stroke-width="1.2" stroke-dasharray="1.2 1.3"/>
<polygon points="113.8,90.2 116.6,96 111,96" fill="#f5821f"/>
<polygon points="177.3,150.2 171.5,147.4 171.5,153" fill="#f5821f"/>
<circle cx="113.8" cy="150.2" r="4.9" fill="#e8212e" stroke="#fbe3e0" stroke-width=".8"/>
<rect x="105.5" y="68" width="19.5" height="20.5" fill="#fff"/>
<rect x="178.8" y="137" width="14.5" height="26" fill="#fff"/>
<text transform="translate(105.75,82.34) scale(1.208,1)" font-size="21.73" class="sb" fill="#f5821f">ψ</text>
<text transform="translate(178.58,156.94) scale(1.162,1)" font-size="26.63" class="sb" fill="#f5821f">ξ</text>
<line x1="172.8" y1="223" x2="207" y2="189.2" stroke="#2e2c2d" stroke-width="1" stroke-dasharray="3 1.2"/>
<polygon points="211.7,184.5 209.6,192.4 203.8,186.6" fill="#2e2c2d"/>
<circle cx="192.3" cy="203.5" r="4.7" fill="#e8212e"/>
<text transform="translate(194.90,222.10) scale(1.007,1)" font-size="29.79" class="sb" fill="#2e2c2d">τ</text>
<path d="M215.2 107.1H291.5" stroke="#2e2c2d" stroke-width="2.3" fill="none"/>
<path d="M280.6 99.9L292.3 107.1L280.6 114.2" stroke="#2e2c2d" stroke-width="2.3" fill="none" stroke-linejoin="miter"/>
<text x="261.8" y="130.3" font-size="16.6" text-anchor="middle" textLength="81.6" lengthAdjust="spacingAndGlyphs" fill="#2e2c2d">Convert to</text>
<text x="261.8" y="150" font-size="16.6" text-anchor="middle" textLength="40" lengthAdjust="spacingAndGlyphs" fill="#2e2c2d">Polar</text>
<text x="261.8" y="170.1" font-size="16.6" text-anchor="middle" textLength="95.5" lengthAdjust="spacingAndGlyphs" fill="#2e2c2d">Coordinates</text>
<line x1="319.5" y1="108" x2="319.5" y2="234.2" stroke="#f5821f" stroke-width="1.7"/>
<line x1="255" y1="182" x2="396" y2="182" stroke="#f5821f" stroke-width="1.7"/>
<polygon points="319.5,102.3 324.2,110.6 314.8,110.6" fill="#f5821f"/>
<polygon points="403,182 394.3,177.4 394.3,186.6" fill="#f5821f"/>
<line x1="319.5" y1="182" x2="382.5" y2="117.8" stroke="#2e2c2d" stroke-width="1.5"/>
<polygon points="386.9,113.3 384.6,121.2 379.2,115.8" fill="#2e2c2d"/>
<line x1="338.9" y1="162" x2="353.7" y2="181.6" stroke="#2e2c2d" stroke-width=".8"/>
<circle cx="319.5" cy="182" r="5.7" fill="#e8212e"/>
<text transform="translate(304.15,97.37) scale(1.226,1)" font-size="23.46" class="sb" fill="#f5821f">ψ</text>
<text transform="translate(406.27,180.82) scale(1.117,1)" font-size="28.31" class="sb" fill="#f5821f">ξ</text>
<text transform="translate(356.89,172.18) scale(1.044,1)" font-size="32.11" class="sb" fill="#2e2c2d">θ</text>
<text transform="translate(398.01,106.00) scale(1.122,1)" font-size="35.42" class="s" fill="#2e2c2d">r</text>
<path d="M441.6 107.2H548.8" stroke="#2e2c2d" stroke-width="2.3" fill="none"/>
<path d="M537.7 100.3L549.6 107.2L537.7 113.9" stroke="#2e2c2d" stroke-width="2.3" fill="none"/>
<text x="436.5" y="131" font-size="16.6" textLength="111" lengthAdjust="spacingAndGlyphs" fill="#2e2c2d">Determine the</text>
<text x="436.5" y="150.9" font-size="16.6" textLength="142.5" lengthAdjust="spacingAndGlyphs" fill="#2e2c2d">values as function</text>
<text x="436.5" y="170.6" font-size="16.6" textLength="113" lengthAdjust="spacingAndGlyphs">of parameter <tspan font-style="italic">r</tspan></text>
<rect x="631.3" y="76.6" width="39" height="117.2" fill="#fff" stroke="#5c5c5c" stroke-width=".55" stroke-dasharray="3.4 .8"/>
<rect x="626.7" y="81.3" width="39" height="117.2" fill="#fff" stroke="#5c5c5c" stroke-width=".55" stroke-dasharray="3.4 .8"/>
<rect x="622.0" y="86.0" width="39" height="117.2" fill="#fff" stroke="#5c5c5c" stroke-width=".55" stroke-dasharray="3.4 .8"/>
<rect x="617.4" y="90.7" width="39" height="117.2" fill="#fff" stroke="#5c5c5c" stroke-width=".55" stroke-dasharray="3.4 .8"/>
<rect x="612.7" y="95.4" width="39" height="117.2" fill="#d00c14" stroke="#a00a10" stroke-width=".8"/>
<line x1="615.5" y1="96" x2="615.5" y2="212" stroke="#aa060c" stroke-width=".7"/>
<line x1="618.4" y1="96" x2="618.4" y2="212" stroke="#aa060c" stroke-width=".7"/>
<line x1="621.3" y1="96" x2="621.3" y2="212" stroke="#aa060c" stroke-width=".7"/>
<line x1="624.2" y1="96" x2="624.2" y2="212" stroke="#aa060c" stroke-width=".7"/>
<line x1="627.1" y1="96" x2="627.1" y2="212" stroke="#aa060c" stroke-width=".7"/>
<line x1="630.0" y1="96" x2="630.0" y2="212" stroke="#aa060c" stroke-width=".7"/>
<line x1="632.9" y1="96" x2="632.9" y2="212" stroke="#aa060c" stroke-width=".7"/>
<line x1="635.8" y1="96" x2="635.8" y2="212" stroke="#aa060c" stroke-width=".7"/>
<line x1="638.7" y1="96" x2="638.7" y2="212" stroke="#aa060c" stroke-width=".7"/>
<line x1="641.6" y1="96" x2="641.6" y2="212" stroke="#aa060c" stroke-width=".7"/>
<line x1="644.5" y1="96" x2="644.5" y2="212" stroke="#aa060c" stroke-width=".7"/>
<line x1="647.4" y1="96" x2="647.4" y2="212" stroke="#aa060c" stroke-width=".7"/>
<line x1="650.3" y1="96" x2="650.3" y2="212" stroke="#aa060c" stroke-width=".7"/>
<line x1="632.1" y1="95.8" x2="632.1" y2="212.2" stroke="#eda022" stroke-width=".8"/>
<circle cx="632.1" cy="153.9" r="4.5" fill="#e8212e" stroke="#fde9e6" stroke-width="1.1"/>
<line x1="597.8" y1="147.6" x2="597.8" y2="133" stroke="#2e2c2d" stroke-width="1.3"/>
<polygon points="597.8,127.2 601.7,135 593.9,135" fill="#2e2c2d"/>
<text transform="translate(592.12,164.00) scale(1.198,1)" font-size="22.50" class="s" fill="#2e2c2d">r</text>
<line x1="646.2" y1="227.5" x2="681" y2="192.3" stroke="#2e2c2d" stroke-width="1"/>
<polygon points="685.5,187.7 683.2,195.8 677.6,190.2" fill="#2e2c2d"/>
<circle cx="665.3" cy="207.6" r="4.6" fill="#e8212e"/>
<text transform="translate(669.31,226.04) scale(1.311,1)" font-size="26.38" class="s" fill="#2e2c2d">τ</text>
<text x="6" y="271" font-size="19.6" textLength="20" lengthAdjust="spacingAndGlyphs" fill="#2e2c2d">b)</text>
<rect x="141.3" y="301.0" width="426.9" height="148.8" fill="url(#hb)"/>
<path d="M138.9 274.0C139.5 273.6 141.5 271.6 142.7 271.6C143.9 271.7 144.8 274.0 145.9 274.3C147.0 274.6 147.7 273.1 149.2 273.2C150.7 273.3 152.8 275.4 154.7 275.1C156.6 274.8 158.8 271.6 160.8 271.6C162.8 271.6 165.3 274.8 166.7 275.1C168.0 275.4 167.6 273.7 168.9 273.6C170.2 273.5 172.6 274.7 174.4 274.3C176.2 273.9 178.0 270.8 179.9 271.0C181.8 271.2 183.7 275.2 185.8 275.8C187.9 276.4 190.1 275.5 192.4 274.7C194.7 273.9 197.5 270.6 199.6 270.8C201.7 271.0 203.6 274.9 205.0 275.8C206.4 276.7 206.1 276.8 208.3 276.0C210.5 275.2 215.8 270.9 218.2 270.8C220.6 270.7 221.2 274.2 222.6 275.1C224.0 276.1 224.2 277.2 226.5 276.5C228.8 275.8 233.6 270.7 236.2 270.8C238.8 270.9 240.1 276.1 241.8 276.9C243.6 277.7 244.6 276.8 246.7 275.8C248.8 274.8 251.9 270.4 254.3 270.8C256.7 271.2 258.9 277.5 260.9 278.0C262.9 278.5 264.2 274.8 266.4 273.6C268.6 272.4 271.9 270.0 274.0 270.8C276.1 271.6 277.4 278.3 279.2 278.4C281.0 278.4 283.2 272.6 284.9 271.1C286.6 269.6 287.6 269.2 289.2 269.6C290.8 270.0 293.1 271.7 294.7 273.3C296.3 274.9 297.1 279.6 298.6 279.4C300.1 279.2 302.0 273.8 303.5 272.2C305.0 270.6 306.3 269.8 307.8 270.0C309.3 270.2 311.2 271.8 312.7 273.3C314.2 274.8 315.3 278.8 316.6 278.8C317.9 278.8 319.3 274.5 320.5 273.3C321.7 272.1 322.7 271.6 323.6 271.6C324.5 271.6 325.1 273.1 326.0 273.2C326.9 273.3 328.1 271.8 329.1 272.1C330.1 272.4 331.2 273.7 332.2 275.0C333.2 276.3 333.9 280.3 334.9 279.8C335.9 279.3 337.0 273.9 338.3 271.9C339.6 269.9 341.4 268.0 342.9 267.6C344.3 267.2 345.8 268.1 347.0 269.3C348.2 270.5 349.2 272.0 350.0 275.0C350.8 278.0 351.2 283.8 351.8 287.2C352.4 290.6 353.1 295.4 353.6 295.4C354.2 295.4 354.6 290.6 355.1 287.2C355.6 283.8 356.2 278.4 356.7 275.0C357.2 271.6 357.6 268.6 358.2 266.8C358.8 265.0 359.4 264.2 360.3 264.0C361.2 263.8 362.2 264.7 363.3 265.8C364.4 266.9 365.8 268.5 366.9 270.4C368.0 272.3 369.1 275.1 370.0 277.0C370.9 278.9 371.6 281.4 372.5 281.6C373.4 281.8 374.2 279.7 375.1 278.0C376.0 276.3 377.2 272.4 378.1 271.4C379.0 270.4 379.7 272.0 380.7 271.9C381.7 271.8 383.2 270.7 384.3 270.9C385.4 271.1 386.2 271.6 387.3 272.9C388.4 274.2 389.7 278.6 390.9 278.5C392.1 278.4 393.0 273.7 394.3 272.2C395.6 270.7 397.1 269.2 398.7 269.6C400.3 270.0 402.5 272.8 404.2 274.4C405.9 276.0 407.4 279.8 409.0 279.4C410.6 279.0 412.4 273.9 414.0 272.2C415.6 270.5 416.7 268.4 418.4 269.0C420.1 269.6 422.4 273.8 424.0 275.5C425.6 277.2 426.5 279.6 427.7 279.4C428.9 279.2 429.9 276.0 431.0 274.4C432.1 272.8 432.9 270.2 434.2 269.6C435.5 269.1 437.3 270.3 438.6 271.1C439.9 271.9 440.6 273.2 441.9 274.4C443.2 275.6 445.0 278.3 446.3 278.1C447.6 277.9 448.4 274.8 449.6 273.3C450.8 271.9 452.0 269.8 453.3 269.4C454.6 269.0 455.8 270.0 457.2 271.1C458.6 272.2 460.2 275.2 461.6 276.2C463.0 277.2 464.3 277.8 465.5 277.3C466.7 276.8 467.5 274.5 468.6 273.3C469.7 272.1 470.9 270.2 472.1 270.0C473.3 269.8 474.5 270.8 475.8 271.8C477.1 272.8 478.8 275.4 480.2 276.0C481.6 276.6 482.7 276.1 484.0 275.5C485.3 274.9 486.7 273.0 487.9 272.2C489.1 271.4 490.0 270.6 491.2 270.7C492.4 270.8 493.6 271.8 494.9 272.7C496.2 273.6 497.5 275.7 498.8 276.2C500.1 276.7 501.5 276.4 502.8 275.5C504.1 274.6 505.4 272.0 506.5 271.1C507.6 270.2 508.2 269.6 509.3 270.0C510.4 270.4 511.6 272.1 513.0 273.3C514.4 274.5 516.1 276.9 517.4 277.3C518.7 277.7 519.5 276.4 520.7 275.5C521.9 274.6 523.5 273.2 524.7 272.2C525.9 271.2 526.9 269.5 528.0 269.6C529.1 269.7 530.0 271.6 531.2 272.7C532.4 273.8 533.8 275.8 535.0 276.2C536.2 276.6 537.3 275.0 538.2 274.9C539.1 274.8 539.5 275.9 540.4 275.5C541.3 275.1 542.6 273.6 543.7 272.7C544.8 271.8 545.9 269.9 547.0 270.0C548.1 270.1 549.2 272.2 550.3 273.3C551.4 274.4 552.6 276.4 553.6 276.6C554.6 276.8 555.4 274.7 556.2 274.4C557.0 274.1 557.4 275.2 558.4 274.9C559.4 274.6 561.1 273.4 562.3 272.7C563.5 272.0 564.9 271.0 565.6 270.7C566.3 270.4 566.5 271.0 566.7 271.1" fill="none" stroke="#0a0a0a" stroke-width="1.7" stroke-linejoin="round" stroke-linecap="round"/>
<line x1="354.1" y1="249.9" x2="354.1" y2="262.7" stroke="#2e2c2d" stroke-width="1"/>
<text x="354.2" y="246.8" font-size="17" text-anchor="middle" fill="#2e2c2d">0</text>
<line x1="359.4" y1="374.4" x2="371.5" y2="374.4" stroke="#fff" stroke-width="1.1"/>
<text x="372.3" y="380" font-size="17.4" fill="#fff">0</text>
<text transform="translate(125.3,439.7) rotate(-90)" font-size="20.6" textLength="81.8" lengthAdjust="spacingAndGlyphs">Space (<tspan font-style="italic">r</tspan>)</text>
<line x1="120.9" y1="352.4" x2="120.9" y2="338" stroke="#2e2c2d" stroke-width="2.6"/>
<polygon points="120.9,323.9 128.4,341.1 113.5,341.1" fill="#2e2c2d"/>
<rect x="594.1" y="296" width="9.7" height="155" fill="url(#cb)" stroke="#777" stroke-width=".6"/>
<text x="609.3" y="303.7" font-size="17.2" textLength="30.3" lengthAdjust="spacingAndGlyphs" fill="#2e2c2d">200</text>
<text x="609.3" y="342" font-size="17.2" textLength="10" lengthAdjust="spacingAndGlyphs" fill="#2e2c2d">0</text>
<text x="609.3" y="380.2" font-size="17.2" textLength="36.5" lengthAdjust="spacingAndGlyphs" fill="#2e2c2d">-200</text>
<text x="609.3" y="419.4" font-size="17.2" textLength="36.5" lengthAdjust="spacingAndGlyphs" fill="#2e2c2d">-400</text>
<text x="609.3" y="458.5" font-size="17.2" textLength="36.5" lengthAdjust="spacingAndGlyphs" fill="#2e2c2d">-600</text>
<text transform="translate(675.3,389.2) rotate(-90)" font-size="23.4" textLength="28.6" lengthAdjust="spacingAndGlyphs">µV</text>
<text x="436.6" y="475.2" font-size="18.8" textLength="50.2" lengthAdjust="spacingAndGlyphs" fill="#2e2c2d">Time (</text>
<text transform="translate(486.39,475.17) scale(1.305,1)" font-size="23.40" class="s" fill="#2e2c2d">τ</text>
<text x="498.9" y="475.2" font-size="18.8" fill="#2e2c2d">)</text>
<line x1="509.3" y1="469.3" x2="526" y2="469.3" stroke="#2e2c2d" stroke-width="2.9"/>
<polygon points="537.8,469.3 524.4,463.4 524.4,475.2" fill="#2e2c2d"/>
<path d="M345.9 453.3C346.5 456.8 348.5 458.8 351 458.8C354.5 458.8 356 459.6 356.6 463.5C357.2 459.6 358.7 458.8 362.2 458.8C364.7 458.8 367.4 456.8 368 453.3" fill="none" stroke="#2e2c2d" stroke-width="1.7" stroke-linecap="round" stroke-linejoin="round"/>
<line x1="356.1" y1="470.1" x2="382" y2="563.5" stroke="#2e2c2d" stroke-width="2.5"/>
<polygon points="385.5,576.4 373.9,562.7 388.5,558.5" fill="#2e2c2d"/>
<text x="310.3" y="523.8" font-size="19.8" textLength="51.8" lengthAdjust="spacingAndGlyphs" fill="#2e2c2d">Detail</text>
<text x="417.4" y="527.8" font-size="19.8" textLength="48.3" lengthAdjust="spacingAndGlyphs" fill="#2e2c2d">1 mm</text>
<text x="516.4" y="556.7" font-size="19.8" textLength="24.2" lengthAdjust="spacingAndGlyphs" fill="#2e2c2d">1 s</text>
<path d="M471.2 508.1V532.3L576.8 533" fill="none" stroke="#2e2c2d" stroke-width="1.3"/>
<text x="6" y="561.9" font-size="19.6" textLength="18" lengthAdjust="spacingAndGlyphs" fill="#2e2c2d">c)</text>
<rect x="164.6" y="576.6" width="400" height="308" fill="#fff" stroke="#fcf6f6" stroke-width=".8"/>
<rect x="197.3" y="884.4" width="367.2" height="33.4" fill="#fff" stroke="#fcf6f6" stroke-width=".8"/>
<g filter="url(#hot)"><rect x="209.3" y="579.3" width="354.5" height="304.9" fill="url(#g1)"/><rect x="209.3" y="579.3" width="354.5" height="304.9" fill="url(#g3)" mask="url(#mb)"/><rect x="209.3" y="579.3" width="354.5" height="304.9" fill="url(#gw)" mask="url(#ma)"/><rect x="209.3" y="579.3" width="354.5" height="304.9" fill="url(#gblob)"/><rect x="330" y="715" width="110" height="40" fill="url(#gstreak)"/><rect x="209.3" y="579.3" width="354.5" height="304.9" fill="url(#cbr)"/><rect x="209.3" y="579.3" width="354.5" height="304.9" fill="url(#cbl)"/></g>
<polyline points="150.2,593.5 107.7,610 115.2,627.6 95.1,646.1 151.2,681.7 119.2,700.2 67.6,717.7 17.2,736.3 184.3,790.3 155,808 89.3,826.3 75.1,844 85.1,862.1 174.3,880.1" fill="none" stroke="#000" stroke-width="2.5" stroke-linejoin="miter"/>
<path d="M219.2 908.9C222.3 910.1 231.4 913.4 237.7 916.1C244.0 918.8 251.2 922.1 257.2 925.2C263.2 928.3 268.3 931.1 273.8 934.9C279.3 938.7 285.3 943.6 290.4 948.2C295.5 952.8 299.7 957.3 304.3 962.7C308.9 968.1 313.6 974.5 318.2 980.7C322.8 986.9 327.5 993.9 332.1 1000.1C336.7 1006.3 341.8 1013.2 345.9 1018.1C350.0 1023.0 353.3 1026.5 357.0 1029.8C360.7 1033.0 364.9 1035.8 368.1 1037.6C371.3 1039.3 373.8 1039.7 376.4 1040.3C378.9 1040.9 380.9 1041.4 383.4 1041.2C385.9 1041.0 388.3 1040.5 391.4 1039.2C394.5 1037.9 398.1 1036.2 402.2 1033.4C406.3 1030.6 411.5 1026.5 416.1 1022.3C420.7 1018.1 425.3 1013.5 429.9 1008.4C434.5 1003.3 439.2 997.6 443.8 991.8C448.4 986.0 453.1 979.7 457.7 973.8C462.3 967.9 466.9 962.1 471.5 956.6C476.1 951.1 480.8 945.5 485.4 940.5C490.0 935.5 494.7 931.0 499.3 926.6C503.9 922.2 508.5 917.9 513.1 914.1C517.7 910.3 522.8 906.7 527.0 903.9C531.2 901.1 534.7 899.3 538.1 897.5C541.5 895.7 545.8 894.0 547.3 893.3" fill="none" stroke="#000" stroke-width="2.5"/>
<text x="56.7" y="590" font-size="20.2" textLength="89.8" lengthAdjust="spacingAndGlyphs" fill="#2e2c2d">Amplitude</text>
<line x1="46" y1="584.9" x2="24" y2="584.9" stroke="#2e2c2d" stroke-width="2.4"/>
<polygon points="12.9,584.9 26,579.4 26,590.4" fill="#2e2c2d"/>
<line x1="7.9" y1="647" x2="7.9" y2="730.8" stroke="#1e96dc" stroke-width="2.2" stroke-dasharray="2.3 1.4"/>
<path d="M1.2 655.5L7.9 646L14.6 655.5" fill="none" stroke="#1e96dc" stroke-width="2.5"/>
<path d="M1.2 722.3L7.9 731.8L14.6 722.3" fill="none" stroke="#1e96dc" stroke-width="2.5"/>
<line x1="7.9" y1="742" x2="7.9" y2="834.6" stroke="#1e96dc" stroke-width="2.2" stroke-dasharray="2.3 1.4"/>
<path d="M1.2 750.5L7.9 741L14.6 750.5" fill="none" stroke="#1e96dc" stroke-width="2.5"/>
<path d="M1.2 826.1L7.9 835.6L14.6 826.1" fill="none" stroke="#1e96dc" stroke-width="2.5"/>
<text transform="translate(195.6,763.4) rotate(-90)" font-size="21.3" textLength="84.8" lengthAdjust="spacingAndGlyphs">Space (<tspan font-style="italic">r</tspan>)</text>
<line x1="190.2" y1="670.6" x2="190.2" y2="655" stroke="#2e2c2d" stroke-width="2.8"/>
<polygon points="190.2,639.6 197.9,657 182.5,657" fill="#2e2c2d"/>
<line x1="564.5" y1="736.2" x2="578.7" y2="736.2" stroke="#2e2c2d" stroke-width="1.1"/>
<text x="579.5" y="741.7" font-size="16" fill="#2e2c2d">0</text>
<line x1="381.2" y1="889.4" x2="381.2" y2="901" stroke="#2e2c2d" stroke-width="1"/>
<text x="381.5" y="914.2" font-size="13" text-anchor="middle" fill="#2e2c2d">0</text>
<text x="405.8" y="913.2" font-size="19.8" textLength="55.6" lengthAdjust="spacingAndGlyphs" fill="#2e2c2d">Time (</text>
<text transform="translate(462.39,912.95) scale(1.226,1)" font-size="24.68" class="s" fill="#2e2c2d">τ</text>
<text x="474.6" y="913.2" font-size="19.8" fill="#2e2c2d">)</text>
<line x1="486.1" y1="906.5" x2="506" y2="906.5" stroke="#2e2c2d" stroke-width="3.1"/>
<polygon points="517.4,906.5 504.2,899.7 504.2,913.3" fill="#2e2c2d"/>
<text x="48" y="930" font-size="19.8" textLength="48.3" lengthAdjust="spacingAndGlyphs" fill="#2e2c2d">1 mm</text>
<text x="111.5" y="969.5" font-size="19.8" textLength="55.5" lengthAdjust="spacingAndGlyphs" fill="#2e2c2d">15 ms</text>
<path d="M103 901V943.5H177" fill="none" stroke="#2e2c2d" stroke-width="1.3"/>
<text transform="translate(542.8,931.9) rotate(90)" font-size="21.3" textLength="89.8" lengthAdjust="spacingAndGlyphs">Amplitude</text>
<line x1="548.4" y1="1025" x2="548.4" y2="1046" stroke="#2e2c2d" stroke-width="2.6"/>
<polygon points="548.4,1057.6 542.7,1044.6 554.1,1044.6" fill="#2e2c2d"/>
</svg></body></html>
